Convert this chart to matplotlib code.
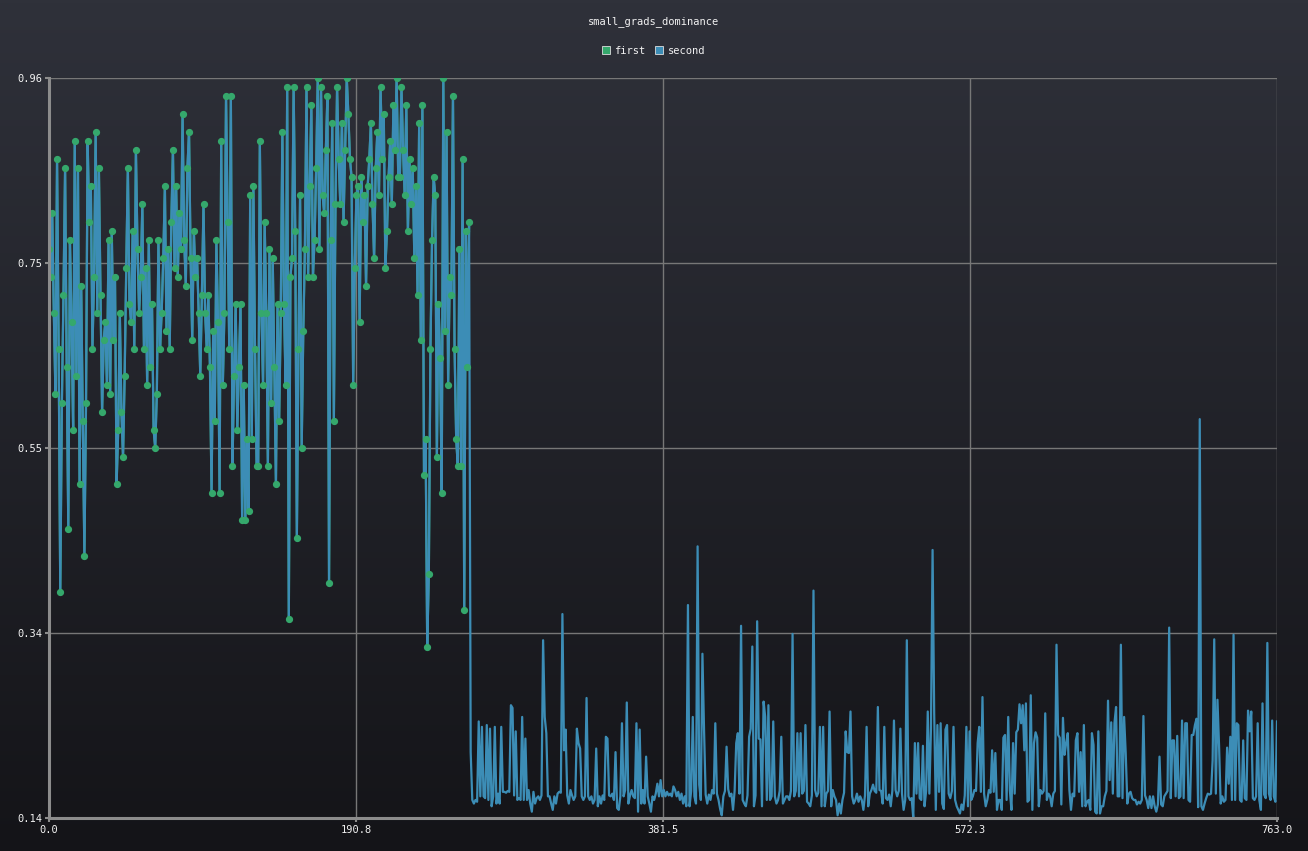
import numpy as np
import matplotlib
matplotlib.use("Agg")
import matplotlib.pyplot as plt
from matplotlib.colors import LinearSegmentedColormap
from matplotlib.lines import Line2D

title = "small_grads_dominance"
series_names = ["first", "second"]

# first run (shared by both series up to index 261)
first = [
    0.77, 0.74, 0.81, 0.70, 0.61, 0.87, 0.66, 0.39, 0.60, 0.72,
    0.86, 0.64, 0.46, 0.78, 0.69, 0.57, 0.89, 0.63, 0.86, 0.51,
    0.73, 0.58, 0.43, 0.60, 0.89, 0.80, 0.84, 0.66, 0.74, 0.90,
    0.70, 0.86, 0.72, 0.59, 0.67, 0.69, 0.62, 0.78, 0.61, 0.79,
    0.67, 0.74, 0.51, 0.57, 0.70, 0.59, 0.54, 0.63, 0.75, 0.86,
    0.71, 0.69, 0.79, 0.66, 0.88, 0.77, 0.70, 0.74, 0.82, 0.66,
    0.75, 0.62, 0.78, 0.64, 0.71, 0.57, 0.55, 0.61, 0.78, 0.66,
    0.70, 0.76, 0.84, 0.68, 0.77, 0.66, 0.80, 0.88, 0.75, 0.84,
    0.74, 0.81, 0.77, 0.92, 0.78, 0.73, 0.86, 0.90, 0.76, 0.67,
    0.79, 0.74, 0.76, 0.70, 0.63, 0.72, 0.82, 0.70, 0.66, 0.72,
    0.64, 0.50, 0.68, 0.58, 0.78, 0.69, 0.50, 0.89, 0.62, 0.70,
    0.94, 0.80, 0.66, 0.94, 0.53, 0.63, 0.71, 0.57, 0.64, 0.71,
    0.47, 0.62, 0.47, 0.56, 0.48, 0.83, 0.56, 0.84, 0.66, 0.53,
    0.53, 0.89, 0.70, 0.62, 0.80, 0.70, 0.53, 0.77, 0.60, 0.76,
    0.64, 0.51, 0.71, 0.58, 0.70, 0.90, 0.71, 0.62, 0.95, 0.36,
    0.74, 0.76, 0.95, 0.79, 0.45, 0.66, 0.83, 0.55, 0.68, 0.77,
    0.95, 0.74, 0.84, 0.93, 0.74, 0.78, 0.86, 0.96, 0.77, 0.95,
    0.83, 0.81, 0.88, 0.94, 0.40, 0.78, 0.91, 0.58, 0.82, 0.95,
    0.87, 0.82, 0.91, 0.80, 0.88, 0.96, 0.92, 0.87, 0.85, 0.62,
    0.75, 0.83, 0.84, 0.69, 0.85, 0.80, 0.83, 0.73, 0.84, 0.87,
    0.91, 0.82, 0.76, 0.86, 0.90, 0.83, 0.95, 0.87, 0.92, 0.75,
    0.79, 0.85, 0.89, 0.82, 0.93, 0.88, 0.96, 0.85, 0.85, 0.95,
    0.88, 0.83, 0.93, 0.79, 0.87, 0.82, 0.86, 0.76, 0.84, 0.72,
    0.91, 0.67, 0.93, 0.52, 0.56, 0.33, 0.41, 0.66, 0.78, 0.85,
    0.83, 0.54, 0.71, 0.65, 0.50, 0.96, 0.68, 0.90, 0.62, 0.74,
    0.72, 0.94, 0.66, 0.56, 0.53, 0.77, 0.53, 0.87, 0.37, 0.79,
    0.64, 0.80,
]

# second run continues after the first one stops
second_tail_a = [
    0.213, 0.160, 0.156, 0.160, 0.158, 0.247, 0.164, 0.241, 0.164, 0.162,
    0.243, 0.160, 0.239, 0.153, 0.164, 0.241, 0.156, 0.167, 0.156, 0.241,
    0.169, 0.169, 0.168, 0.170, 0.169, 0.265, 0.262, 0.165, 0.236, 0.160,
    0.162, 0.160, 0.252, 0.160, 0.228, 0.160, 0.171, 0.156, 0.147, 0.169,
    0.156, 0.162, 0.164, 0.160, 0.165, 0.337, 0.252, 0.234, 0.164, 0.164,
    0.156, 0.149, 0.164, 0.156, 0.167, 0.169, 0.168, 0.366, 0.215, 0.238,
    0.165, 0.156, 0.171, 0.165, 0.160, 0.164, 0.239, 0.223, 0.217, 0.164,
    0.160, 0.164, 0.273, 0.164, 0.160, 0.164, 0.156, 0.160, 0.217, 0.153,
    0.164, 0.156, 0.165, 0.160, 0.230, 0.228, 0.165, 0.164, 0.167, 0.160,
    0.213, 0.151, 0.149, 0.164, 0.245, 0.164, 0.171, 0.268, 0.156, 0.165,
    0.171, 0.164, 0.162, 0.245, 0.147, 0.238, 0.156, 0.171, 0.156, 0.208,
    0.164, 0.156, 0.147, 0.164, 0.160, 0.167, 0.178, 0.164, 0.182, 0.164,
    0.171, 0.164, 0.169, 0.165, 0.167, 0.164, 0.175,
]
second_tail_b = [
    0.171, 0.164, 0.169, 0.160, 0.167, 0.156, 0.164, 0.153, 0.376, 0.153,
    0.170, 0.252, 0.164, 0.156, 0.441, 0.177, 0.160, 0.322, 0.238, 0.166,
    0.156, 0.166, 0.160, 0.171, 0.167, 0.245, 0.167, 0.160, 0.150, 0.143,
    0.164, 0.170, 0.219, 0.172, 0.164, 0.167, 0.149, 0.170, 0.223, 0.234,
    0.167, 0.353, 0.160, 0.156, 0.153, 0.165, 0.230, 0.239, 0.330, 0.153,
    0.165, 0.358, 0.228, 0.227, 0.153, 0.269, 0.252, 0.160, 0.265, 0.160,
    0.164, 0.247, 0.164, 0.156, 0.160, 0.170, 0.230, 0.156, 0.160, 0.164,
    0.164, 0.160, 0.170, 0.344, 0.164, 0.170, 0.234, 0.164, 0.234, 0.167,
    0.170, 0.243, 0.158, 0.156, 0.153, 0.165, 0.392, 0.171, 0.164, 0.168,
    0.241, 0.153, 0.241, 0.153, 0.167, 0.170, 0.258, 0.153, 0.171, 0.164,
    0.160, 0.143, 0.156, 0.145, 0.160, 0.168, 0.236, 0.213, 0.212, 0.258,
    0.164, 0.156, 0.160, 0.167, 0.158, 0.164, 0.160, 0.149, 0.165, 0.241,
    0.153, 0.167, 0.171, 0.177, 0.170,
]
second_tail_c = [
    0.168, 0.263, 0.171, 0.170, 0.156, 0.241, 0.162, 0.160, 0.166, 0.153,
    0.170, 0.248, 0.171, 0.164, 0.170, 0.239, 0.167, 0.149, 0.160, 0.337,
    0.164, 0.160, 0.162, 0.140, 0.223, 0.167, 0.223, 0.162, 0.160, 0.220,
    0.153, 0.170, 0.258, 0.167, 0.239, 0.437, 0.256, 0.149, 0.243, 0.169,
    0.245, 0.156, 0.150, 0.238, 0.243, 0.167, 0.162, 0.170, 0.241, 0.160,
    0.153, 0.149, 0.145, 0.155, 0.149, 0.165, 0.241, 0.153, 0.236, 0.160,
    0.164, 0.171, 0.170, 0.223, 0.241, 0.169, 0.274, 0.167, 0.153, 0.160,
    0.171, 0.168, 0.215, 0.169, 0.212, 0.149, 0.160, 0.160, 0.149, 0.229,
    0.232, 0.160, 0.252, 0.171, 0.149, 0.223, 0.167, 0.235, 0.238, 0.266,
    0.245, 0.265, 0.215, 0.267, 0.158, 0.160, 0.276, 0.149, 0.223, 0.235,
    0.229, 0.153, 0.171, 0.167, 0.170, 0.256, 0.160, 0.167, 0.164, 0.153,
    0.167, 0.170, 0.332, 0.232, 0.229, 0.155, 0.251, 0.210, 0.223, 0.234,
    0.171, 0.149, 0.167, 0.164,
]
second_tail_d = [
    0.226, 0.234, 0.169, 0.213, 0.153, 0.243, 0.153, 0.158, 0.160, 0.149,
    0.234, 0.221, 0.147, 0.145, 0.236, 0.145, 0.153, 0.153, 0.164, 0.170,
    0.270, 0.182, 0.246, 0.167, 0.245, 0.263, 0.164, 0.164, 0.332, 0.162,
    0.252, 0.212, 0.156, 0.167, 0.169, 0.162, 0.160, 0.160, 0.155, 0.158,
    0.156, 0.160, 0.253, 0.165, 0.160, 0.151, 0.164, 0.151, 0.164, 0.153,
    0.147, 0.155, 0.208, 0.155, 0.153, 0.164, 0.167, 0.170, 0.351, 0.162,
    0.226, 0.226, 0.164, 0.231, 0.162, 0.164, 0.248, 0.162, 0.245, 0.245,
    0.160, 0.158, 0.232, 0.232, 0.243, 0.250, 0.152, 0.582, 0.153, 0.149,
    0.156, 0.162, 0.167, 0.166, 0.167, 0.204, 0.338, 0.167, 0.271, 0.220,
    0.156, 0.164, 0.158, 0.160, 0.218, 0.178, 0.230, 0.160, 0.343, 0.160,
    0.245, 0.243, 0.160, 0.158, 0.226, 0.162, 0.160, 0.259, 0.236, 0.258,
    0.162, 0.160, 0.164, 0.245, 0.160, 0.149, 0.267, 0.166, 0.162, 0.334,
    0.167, 0.160, 0.248, 0.164, 0.158, 0.247,
]
second = first + second_tail_a + second_tail_b + second_tail_c + second_tail_d

x_ticks = [0.0, 190.75, 381.5, 572.25, 763.0]
x_labels = ["0.0", "190.8", "381.5", "572.3", "763.0"]
y_ticks = [0.14, 0.345, 0.55, 0.755, 0.96]
y_labels = ["0.14", "0.34", "0.55", "0.75", "0.96"]

green = "#35a86c"
blue = "#3c8db6"
txt = "#f2f2f2"
font = "DejaVu Sans Mono"

fig = plt.figure(figsize=(13.08, 8.51), dpi=100)

# dark vertical gradient background
bg = fig.add_axes([0, 0, 1, 1], zorder=-10)
cmap = LinearSegmentedColormap.from_list("bg", ["#141418", "#2f313a"])
bg.imshow(np.linspace(0, 1, 256).reshape(-1, 1), cmap=cmap, aspect="auto",
          extent=[0, 1, 0, 1], origin="lower")
bg.axis("off")

ax = fig.add_axes([49 / 1308, 33 / 851, 1228 / 1308, 740 / 851])
ax.set_facecolor("none")

x1 = np.arange(len(first))
x2 = np.arange(len(second))
ax.plot(x1, first, color=green, lw=1.6, zorder=3)
ax.plot(x2, second, color=blue, lw=1.6, zorder=4)
ax.plot(x1, first, ls="none", marker="o", ms=4.2, color=green, zorder=5)

ax.set_xlim(0, 763)
ax.set_ylim(0.14, 0.96)
ax.set_xticks(x_ticks)
ax.set_xticklabels(x_labels)
ax.set_yticks(y_ticks)
ax.set_yticklabels(y_labels)
ax.grid(True, color="#777777", lw=1.0, zorder=1)
for s in ["top", "right"]:
    ax.spines[s].set_visible(False)
for s in ["left", "bottom"]:
    ax.spines[s].set_color("#8c8c8c")
    ax.spines[s].set_linewidth(2.2)
    ax.spines[s].set_zorder(6)
ax.tick_params(colors="#8c8c8c", length=3, width=1.5, pad=2)
for lab in ax.get_xticklabels() + ax.get_yticklabels():
    lab.set_color(txt)
    lab.set_family(font)
    lab.set_fontsize(7.5)

fig.text(0.5, 1 - 22 / 851, title, ha="center", va="center",
         color=txt, family=font, fontsize=7.5)

handles = [Line2D([], [], ls="none", marker="s", ms=5.5, color=c,
                  markeredgecolor="#dddddd", markeredgewidth=0.6)
           for c in (green, blue)]
leg = fig.legend(handles, series_names, loc="center", ncol=2,
                 bbox_to_anchor=(0.5, 1 - 51 / 851), frameon=False,
                 handlelength=0.6, handletextpad=0.5, columnspacing=1.0,
                 prop={"family": font, "size": 7.5})
for t in leg.get_texts():
    t.set_color(txt)

fig.savefig("out.png", dpi=100)
